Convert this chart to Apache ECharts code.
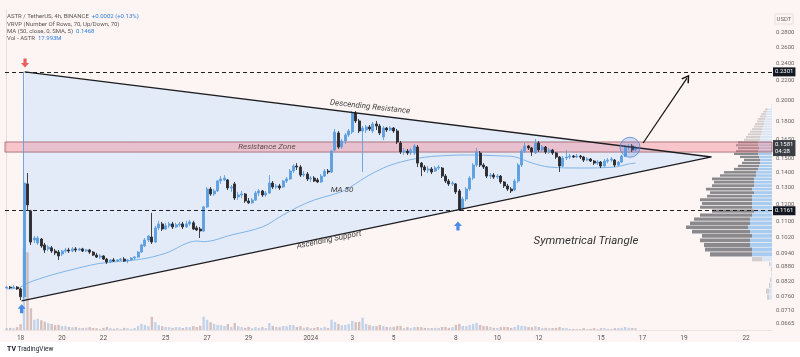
<!DOCTYPE html>
<html><head><meta charset="utf-8">
<script src="https://cdn.jsdelivr.net/npm/echarts@6/dist/echarts.min.js"></script>
<style>html,body{margin:0;padding:0;background:#fff}#c{width:800px;height:357px}</style>
</head><body><div id="c"></div><script>
// ---------- DATA ----------
const dateTickIdx = [4,16,28,46,58,70,88,100,112,130,142,154,172,184,196,214];
const dateTickLabels = ['18','20','22','25','27','29','2024','3','5','8','10','12','15','17','19','22'];
const priceTicks = [0.28,0.26,0.24,0.22,0.20,0.18,0.165,0.15,0.14,0.13,0.12,0.11,0.102,0.094,0.088,0.082,0.076,0.071,0.0665];
// 4h candles [open, close, low, high], slot 0 = Dec 17 08:00
const candles = [
[0.0794,0.0797,0.0790,0.0801],[0.0797,0.0794,0.0790,0.0801],[0.0794,0.0797,0.0790,0.0805],[0.0797,0.0790,0.0786,0.0801],[0.0790,0.0760,0.0748,0.0794],
[0.0760,0.1331,0.0752,0.2301],[0.1325,0.1195,0.1160,0.1398],[0.1160,0.0995,0.0981,0.1166],[0.1005,0.1015,0.0991,0.1025],[0.0991,0.1015,0.0981,0.1025],
[0.1010,0.0976,0.0967,0.1015],[0.0981,0.0957,0.0943,0.0991],[0.0962,0.0971,0.0952,0.0981],[0.0967,0.0952,0.0943,0.0976],[0.0952,0.0943,0.0933,0.0962],
[0.0947,0.0929,0.0911,0.0957],[0.0938,0.0952,0.0929,0.0957],[0.0952,0.0957,0.0943,0.0967],[0.0957,0.0952,0.0943,0.0967],[0.0952,0.0962,0.0947,0.0971],
[0.0962,0.0957,0.0947,0.0971],[0.0957,0.0962,0.0952,0.0967],[0.0962,0.0952,0.0947,0.0967],[0.0952,0.0957,0.0947,0.0962],[0.0957,0.0947,0.0938,0.0962],
[0.0947,0.0933,0.0929,0.0952],[0.0933,0.0924,0.0920,0.0943],[0.0924,0.0929,0.0915,0.0938],[0.0929,0.0915,0.0911,0.0933],[0.0915,0.0902,0.0893,0.0920],
[0.0902,0.0911,0.0897,0.0915],[0.0911,0.0906,0.0902,0.0920],[0.0906,0.0911,0.0902,0.0915],[0.0911,0.0915,0.0906,0.0920],[0.0915,0.0906,0.0902,0.0924],
[0.0906,0.0911,0.0897,0.0915],[0.0911,0.0920,0.0906,0.0924],[0.0920,0.0924,0.0911,0.0929],[0.0924,0.0947,0.0920,0.0952],[0.0947,0.0981,0.0943,0.0986],
[0.0976,0.1005,0.0971,0.1015],[0.1005,0.1025,0.0995,0.1030],[0.1020,0.0995,0.0986,0.1149],[0.0995,0.1067,0.0991,0.1078],[0.1067,0.1088,0.1056,0.1105],
[0.1088,0.1061,0.1051,0.1099],[0.1061,0.1078,0.1056,0.1094],[0.1078,0.1088,0.1067,0.1099],[0.1088,0.1072,0.1061,0.1099],[0.1072,0.1083,0.1067,0.1094],
[0.1083,0.1088,0.1072,0.1099],[0.1088,0.1072,0.1061,0.1099],[0.1072,0.1088,0.1067,0.1105],[0.1088,0.1099,0.1078,0.1110],[0.1094,0.1061,0.1056,0.1105],
[0.1067,0.1056,0.1051,0.1078],[0.1061,0.1051,0.1015,0.1072],[0.1051,0.1183,0.1046,0.1189],[0.1183,0.1292,0.1178,0.1305],[0.1292,0.1261,0.1249,0.1305],
[0.1261,0.1280,0.1249,0.1292],[0.1280,0.1344,0.1274,0.1351],[0.1344,0.1358,0.1325,0.1377],[0.1351,0.1364,0.1344,0.1384],[0.1351,0.1299,0.1286,0.1358],
[0.1299,0.1305,0.1274,0.1318],[0.1325,0.1236,0.1224,0.1338],[0.1243,0.1255,0.1224,0.1274],[0.1255,0.1261,0.1236,0.1280],[0.1261,0.1218,0.1207,0.1267],
[0.1218,0.1207,0.1201,0.1236],[0.1207,0.1224,0.1201,0.1236],[0.1224,0.1267,0.1218,0.1280],[0.1267,0.1280,0.1249,0.1292],[0.1280,0.1255,0.1243,0.1286],
[0.1255,0.1267,0.1243,0.1280],[0.1267,0.1331,0.1261,0.1384],[0.1331,0.1305,0.1292,0.1344],[0.1305,0.1312,0.1292,0.1325],[0.1312,0.1299,0.1286,0.1325],
[0.1305,0.1344,0.1299,0.1351],[0.1344,0.1358,0.1331,0.1371],[0.1358,0.1412,0.1351,0.1426],[0.1412,0.1447,0.1398,0.1461],[0.1447,0.1440,0.1419,0.1468],
[0.1440,0.1384,0.1371,0.1454],[0.1384,0.1391,0.1371,0.1412],[0.1391,0.1358,0.1344,0.1405],[0.1358,0.1364,0.1338,0.1377],[0.1364,0.1344,0.1338,0.1377],
[0.1351,0.1338,0.1331,0.1364],[0.1338,0.1377,0.1331,0.1391],[0.1377,0.1412,0.1371,0.1426],[0.1412,0.1405,0.1391,0.1426],[0.1405,0.1558,0.1398,0.1566],
[0.1566,0.1711,0.1558,0.1737],[0.1703,0.1589,0.1574,0.1720],[0.1589,0.1637,0.1574,0.1653],[0.1637,0.1686,0.1613,0.1703],[0.1686,0.1720,0.1670,0.1737],
[0.1711,0.1879,0.1694,0.1898],[0.1879,0.1807,0.1789,0.1898],[0.1807,0.1720,0.1703,0.1825],[0.1720,0.1745,0.1405,0.1762],[0.1728,0.1754,0.1703,0.1771],
[0.1754,0.1737,0.1720,0.1771],[0.1720,0.1780,0.1703,0.1798],[0.1780,0.1762,0.1728,0.1807],[0.1762,0.1703,0.1686,0.1780],[0.1670,0.1745,0.1645,0.1762],
[0.1745,0.1728,0.1711,0.1754],[0.1728,0.1745,0.1720,0.1762],[0.1745,0.1720,0.1703,0.1754],[0.1720,0.1629,0.1613,0.1737],[0.1621,0.1551,0.1536,0.1637],
[0.1551,0.1558,0.1528,0.1582],[0.1558,0.1543,0.1528,0.1574],[0.1543,0.1566,0.1528,0.1582],[0.1543,0.1597,0.1528,0.1613],[0.1589,0.1468,0.1440,0.1605],
[0.1468,0.1440,0.1377,0.1476],[0.1440,0.1419,0.1405,0.1454],[0.1419,0.1426,0.1398,0.1447],[0.1426,0.1405,0.1391,0.1440],[0.1412,0.1433,0.1405,0.1447],
[0.1433,0.1440,0.1419,0.1454],[0.1433,0.1377,0.1364,0.1440],[0.1377,0.1344,0.1331,0.1391],[0.1344,0.1325,0.1312,0.1358],[0.1325,0.1331,0.1312,0.1344],
[0.1325,0.1274,0.1261,0.1331],[0.1280,0.1166,0.1160,0.1292],[0.1172,0.1230,0.1160,0.1243],[0.1230,0.1292,0.1218,0.1305],[0.1292,0.1364,0.1280,0.1377],
[0.1364,0.1454,0.1351,0.1468],[0.1454,0.1551,0.1440,0.1582],[0.1543,0.1454,0.1440,0.1558],[0.1454,0.1440,0.1426,0.1468],[0.1440,0.1377,0.1364,0.1447],
[0.1377,0.1384,0.1358,0.1398],[0.1384,0.1371,0.1358,0.1398],[0.1371,0.1377,0.1358,0.1391],[0.1377,0.1338,0.1325,0.1384],[0.1338,0.1312,0.1299,0.1344],
[0.1312,0.1292,0.1280,0.1325],[0.1292,0.1280,0.1267,0.1305],[0.1286,0.1344,0.1280,0.1358],[0.1344,0.1454,0.1331,0.1468],[0.1454,0.1558,0.1440,0.1574],
[0.1558,0.1597,0.1543,0.1621],[0.1597,0.1582,0.1566,0.1605],[0.1582,0.1551,0.1520,0.1589],[0.1543,0.1621,0.1536,0.1653],[0.1621,0.1566,0.1551,0.1637],
[0.1566,0.1589,0.1551,0.1605],[0.1589,0.1551,0.1536,0.1597],[0.1551,0.1566,0.1536,0.1582],[0.1566,0.1543,0.1528,0.1574],[0.1543,0.1513,0.1498,0.1551],
[0.1513,0.1447,0.1405,0.1520],[0.1447,0.1505,0.1440,0.1520],[0.1505,0.1513,0.1490,0.1566],[0.1513,0.1520,0.1498,0.1536],[0.1520,0.1513,0.1505,0.1528],
[0.1513,0.1520,0.1505,0.1536],[0.1520,0.1513,0.1498,0.1528],[0.1513,0.1490,0.1476,0.1520],[0.1490,0.1498,0.1483,0.1513],[0.1498,0.1483,0.1476,0.1505],
[0.1483,0.1468,0.1454,0.1490],[0.1468,0.1476,0.1454,0.1490],[0.1476,0.1447,0.1433,0.1483],[0.1447,0.1483,0.1440,0.1498],[0.1483,0.1490,0.1468,0.1505],
[0.1490,0.1498,0.1476,0.1513],[0.1490,0.1454,0.1440,0.1498],[0.1454,0.1476,0.1447,0.1483],[0.1476,0.1520,0.1468,0.1528],[0.1520,0.1589,0.1513,0.1605],
[0.1589,0.1597,0.1566,0.1613],[0.1597,0.1566,0.1551,0.1613],[0.1566,0.1581,0.1558,0.1597]
];
// volume per candle, millions ASTR
const volumes = [
17,19,16,26,52,735,700,196,92,101,
88,74,61,55,44,47,35,37,28,25,
27,19,17,20,26,18,16,10,19,28,
17,11,18,9,19,16,10,18,37,55,
46,34,118,71,44,35,28,26,19,27,
25,18,28,26,35,27,38,120,92,70,
55,46,43,36,54,27,64,35,26,19,
28,17,27,19,26,18,63,37,28,25,
36,34,46,44,27,35,19,26,17,18,
27,19,28,18,92,73,55,44,46,53,
82,71,74,110,55,44,36,35,46,35,
27,26,28,36,37,18,26,17,27,28,
26,19,18,17,19,18,27,28,19,26,
46,55,37,35,44,55,64,46,36,35,
27,19,18,26,28,27,19,28,45,37,
36,27,26,35,27,18,19,17,18,19,
27,18,17,10,9,10,8,17,9,10,
18,9,17,18,10,9,17,18,19,27,
19,18,17.99
];
// MA 50 [slot, value]
const ma50 = [[0,0.0790],[3,0.0792],[6,0.0813],[13,0.0846],[22,0.0880],[27,0.0896],[39,0.0915],[46,0.0942],[55,0.1000],[57,0.0997],[65,0.1030],[74,0.1072],[79,0.1126],[84,0.1180],[89,0.1224],[94,0.1255],[98,0.1286],[104,0.1371],[109,0.1433],[114,0.1476],[119,0.1503],[123,0.1517],[133,0.1528],[143,0.1521],[147,0.1514],[152,0.1469],[157,0.1440],[166,0.1433],[176,0.1440],[180,0.1462],[182,0.1468]];
// symmetrical triangle: top-left, apex, bottom-left
const triangle = [[5.2,0.2301],[204,0.1513],[4.3,0.0745]];
const resistanceZone = [0.1550,0.1629];
const levels = [0.2301,0.1161];
const lastPrice = 0.1581;
const lastTime = '04:28';
// volume profile (70 rows), up / down volume
const vpStart = 0.0748, vpStep = 0.00222;
const vpUp =   [12,12,8,4,4,0,8,40,80,80,88,88,80,88,96,88,88,80,72,80,80,80,80,72,80,72,72,72,64,64,56,52,48,48,52,56,56,52,56,56,48,48,44,40,40,36,32,32,28,24,24,20,16,4,4,0,0,0,0,0,0,0,0,0,0,0,0,0,0,0];
const vpDown = [8,12,4,4,0,4,4,40,168,188,184,200,200,232,248,240,224,208,168,208,200,208,180,176,184,168,160,168,144,128,96,84,72,64,76,96,88,84,88,80,64,56,52,48,40,36,36,28,28,24,20,16,12,0,0,0,0,0,0,0,0,0,0,0,0,0,0,0,0,0];
const vaRows = [8,39];
const sellSignal = [[5.3,0.2404]];
const buySignals = [[4.3,0.0716],[130.6,0.1077]];
const breakout = [[184.2,0.1621],[196.9,0.2232]];
const focus = [[180.4,0.1587]];

// ---------- CHART ----------
const chart = echarts.init(document.getElementById('c'), null, {renderer:'canvas', width:800, height:357});
const UP = '#5f9fe0', DOWN = '#2c2c30';
const FONT = 'Roboto, "Noto Sans", sans-serif';
const PMIN = 0.06452, PMAX = 0.3121;
const candleData = candles.map((c,i)=>[i,c[0],c[1],c[2],c[3]]);
const volData = volumes.map((v,i)=>({value:[i,v], itemStyle:{color: candles[i][1]>=candles[i][0] ? 'rgba(110,165,225,0.42)' : 'rgba(160,120,115,0.42)'}}));
const vpData = vpUp.map((u,i)=>[u, vpDown[i], vpStart+i*vpStep, vpStart+(i+1)*vpStep, i]);
const tagLabel = (bg)=>({show:true, position:'end', distance:1, backgroundColor:bg, color:'#fff', fontSize:6, fontFamily:FONT, padding:[1,2], lineHeight:7});

const option = {
  backgroundColor:'#fdf5f3',
  animation:false,
  grid:[
    {left:5, right:28, top:10, bottom:27},
    {left:5, right:28, top:230, bottom:27},
    {left:5, right:28, top:10, bottom:27}
  ],
  xAxis:[
    {type:'value', gridIndex:0, min:-0.5, max:221.5, axisLine:{show:true, lineStyle:{color:'#eee2e0'}}, axisTick:{show:false}, splitLine:{show:false},
     axisLabel:{customValues:dateTickIdx, formatter:v=>{const j=dateTickIdx.indexOf(Math.round(v)); return j>=0?dateTickLabels[j]:'';}, fontSize:6.5, color:'#555', margin:5, fontFamily:FONT}},
    {type:'value', gridIndex:1, min:-0.5, max:221.5, show:false},
    {type:'value', gridIndex:2, min:0, max:3068, inverse:true, show:false}
  ],
  yAxis:[
    {type:'log', logBase:10, gridIndex:0, min:PMIN, max:PMAX, position:'right', axisLine:{show:true, lineStyle:{color:'#eadcda'}}, axisTick:{show:false}, splitLine:{show:false},
     axisLabel:{customValues:priceTicks, formatter:v=>Number(v).toFixed(4), fontSize:6, color:'#666', margin:4, fontFamily:FONT}},
    {type:'value', gridIndex:1, min:0, max:900, show:false},
    {type:'log', logBase:10, gridIndex:2, min:PMIN, max:PMAX, show:false}
  ],
  series:[
    {type:'bar', name:'vol', xAxisIndex:1, yAxisIndex:1, data:volData, barWidth:2.4, z:0, silent:true},
    {type:'custom', name:'vp', xAxisIndex:2, yAxisIndex:2, data:vpData, encode:{x:[0,1], y:[2,3]}, z:0, silent:true,
     renderItem:(params, api)=>{
       const up=api.value(0), dn=api.value(1), lo=api.value(2), hi=api.value(3), i=api.value(4);
       if(up+dn<=0) return null;
       const pa=api.coord([0,hi]), pb=api.coord([up,lo]), pc=api.coord([up+dn,lo]);
       const top=pa[1]+0.35, h=Math.max(0.6,(pb[1]-pa[1])-0.7);
       const inVA = i>=vaRows[0] && i<=vaRows[1];
       return {type:'group', children:[
         {type:'rect', shape:{x:pb[0], y:top, width:pa[0]-pb[0], height:h}, style:{fill: inVA?'#a8ccef':'#d8e6f4'}},
         {type:'rect', shape:{x:pc[0], y:top, width:pb[0]-pc[0], height:h}, style:{fill: inVA?'#8a8a8e':'#d3cdcd'}}
       ]};
     }},
    {type:'custom', name:'triFill', data:triangle, encode:{x:0,y:1}, z:0, silent:true,
     renderItem:(params, api)=>{
       if(params.dataIndex!==0) return null;
       return {type:'polygon', shape:{points:triangle.map(p=>api.coord(p))}, style:{fill:'rgba(205,225,251,0.55)'}};
     }},
    {type:'line', name:'MA50', data:ma50, smooth:0.35, showSymbol:false, lineStyle:{color:'#7fb4e8', width:1}, z:3, silent:true,
     markArea:{silent:true, itemStyle:{color:'rgba(240,140,152,0.45)', borderColor:'rgba(150,85,95,0.75)', borderWidth:1},
       data:[[{yAxis:resistanceZone[0]},{yAxis:resistanceZone[1]}]]}},
    {type:'candlestick', name:'ASTR', data:candleData, encode:{x:0, y:[1,2,3,4]}, barWidth:2.5, z:4, silent:true,
     itemStyle:{color:UP, color0:DOWN, borderColor:UP, borderColor0:DOWN, borderWidth:0.9},
     markLine:{silent:true, symbol:'none', animation:false, precision:4,
       data:[
         {yAxis:levels[0], lineStyle:{color:'#222', type:[4,3], width:1}, label:Object.assign(tagLabel('#131722'),{formatter:p=>Number(p.value).toFixed(4)})},
         {yAxis:levels[1], lineStyle:{color:'#222', type:[4,3], width:1}, label:Object.assign(tagLabel('#131722'),{formatter:p=>Number(p.value).toFixed(4)})},
         {yAxis:lastPrice, lineStyle:{color:'rgba(0,0,0,0)', width:0.1}, label:Object.assign(tagLabel('#3b3d45'),{formatter:p=>Number(p.value).toFixed(4)+'\n'+lastTime})}
       ]}},
    {type:'line', name:'triangle', data:triangle, showSymbol:false, lineStyle:{color:'#1e1e22', width:1.3}, z:5, silent:true,
     markLine:{silent:true, animation:false, precision:4, lineStyle:{color:'#111', width:1.2, type:'solid'}, label:{show:false},
       data:[[{coord:breakout[0], symbol:'none'},{coord:breakout[1], symbol:'path://M5,0 L10,9 L8.6,10 L5,3.4 L1.4,10 L0,9 Z', symbolSize:[9,8]}]]}},
    {type:'scatter', name:'focus', data:focus, symbolSize:20, z:6, silent:true,
     itemStyle:{color:'rgba(90,140,225,0.30)', borderColor:'#4f86da', borderWidth:1}},
    {type:'scatter', name:'sell', data:sellSignal, symbol:'path://M3,0 L7,0 L7,5 L10,5 L5,10 L0,5 L3,5 Z', symbolSize:[8,9], z:6, silent:true, itemStyle:{color:'#e53935'}},
    {type:'scatter', name:'buy', data:buySignals, symbol:'path://M5,0 L10,5 L7,5 L7,10 L3,10 L3,5 L0,5 Z', symbolSize:[8,9], z:6, silent:true, itemStyle:{color:'#1f6fe5'}}
  ],
  graphic:[
    {type:'rect', shape:{x:0,y:342,width:800,height:15}, style:{fill:'#ffffff'}, z:100},
    {type:'text', x:7, y:13, z:101, style:{text:'ASTR / TetherUS, 4h, BINANCE  {b|+0.0002 (+0.13%)}\nVRVP (Number Of Rows, 70, Up/Down, 70)\nMA (50, close, 0, SMA, 5)  {b|0.1468}\nVol - ASTR  {b|17.993M}',
      fill:'#555', fontSize:6, lineHeight:7.4, fontFamily:FONT, rich:{b:{fill:'#2f7de0', fontSize:6, fontFamily:FONT}}}},
    {type:'rect', shape:{x:775, y:14, width:18, height:10}, style:{fill:'#fdf5f3', stroke:'#e3d6d4', lineWidth:0.8}, z:100},
    {type:'text', x:784, y:19, z:101, style:{text:'USDT', fill:'#666', fontSize:6, fontFamily:FONT, align:'center', verticalAlign:'middle'}},
    {type:'text', x:370, y:107, rotation:-0.11, z:101, style:{text:'Descending Resistance', fill:'#444', fontSize:8, fontStyle:'italic', fontFamily:FONT, align:'center', verticalAlign:'middle'}},
    {type:'text', x:267, y:147, z:101, style:{text:'Resistance Zone', fill:'#5a4a4c', fontSize:8, fontStyle:'italic', fontFamily:FONT, align:'center', verticalAlign:'middle'}},
    {type:'text', x:342, y:190, z:101, style:{text:'MA 50', fill:'#444', fontSize:8, fontStyle:'italic', fontFamily:FONT, align:'center', verticalAlign:'middle'}},
    {type:'text', x:329, y:240, rotation:0.2, z:101, style:{text:'Ascending Support', fill:'#444', fontSize:8, fontStyle:'italic', fontFamily:FONT, align:'center', verticalAlign:'middle'}},
    {type:'text', x:586, y:241, z:101, style:{text:'Symmetrical Triangle', fill:'#333', fontSize:11.5, fontStyle:'italic', fontFamily:FONT, align:'center', verticalAlign:'middle'}},
    {type:'text', x:7, y:349, z:101, style:{text:'{l|TV} TradingView', fill:'#131722', fontSize:6.5, fontFamily:FONT, verticalAlign:'middle', rich:{l:{fontSize:7, fontWeight:'bold', fill:'#131722', fontFamily:FONT}}}}
  ]
};
chart.setOption(option);
</script></body></html>
